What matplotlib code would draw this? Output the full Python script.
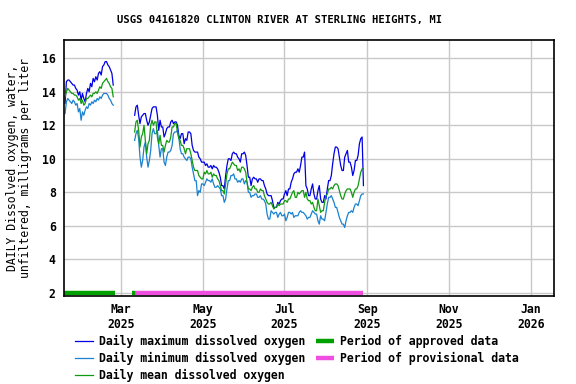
import matplotlib
matplotlib.use("Agg")
import matplotlib.pyplot as plt
import matplotlib.dates as mdates
import pandas as pd

# Daily values (mg/L)
seg1_start = "2025-01-18"
seg1_max = [13.3, 14.6, 14.7, 14.7, 14.6, 14.5, 14.4, 14.4, 14.2, 14.1, 13.8, 14.0, 13.5,
            13.9, 13.6, 13.4, 13.9, 14.2, 14.0, 14.5, 14.3, 14.8, 14.6, 14.9, 14.7, 15.1,
            15.2, 15.0, 15.5, 15.6, 15.8, 15.8, 15.6, 15.5, 15.3, 15.1, 14.4]
seg1_mean = [13.7, 14.0, 14.2, 14.1, 14.0, 13.9, 13.9, 13.8, 13.8, 13.7, 13.5, 13.6, 13.3,
             13.5, 13.2, 13.3, 13.6, 13.6, 13.7, 13.8, 13.7, 13.9, 13.9, 14.0, 13.9, 14.1,
             14.3, 14.2, 14.5, 14.6, 14.7, 14.8, 14.6, 14.5, 14.3, 14.2, 13.7]
seg1_min = [12.7, 13.4, 13.6, 13.5, 13.4, 13.3, 13.5, 13.4, 13.2, 13.3, 12.8, 13.0, 12.3,
            12.8, 12.6, 12.9, 13.1, 13.0, 13.3, 13.2, 13.4, 13.3, 13.5, 13.4, 13.6, 13.5,
            13.7, 13.6, 13.8, 13.9, 13.9, 13.9, 13.8, 13.6, 13.5, 13.3, 13.2]

seg2_start = "2025-03-11"
seg2_max = [12.6, 13.1, 13.2, 12.6, 12.1, 12.5, 12.6, 12.7, 12.7, 12.3,
            12.0, 12.2, 12.6, 13.0, 13.1, 13.1, 13.1, 12.6, 11.7, 12.3,
            11.9, 11.9, 11.3, 11.5, 11.8, 11.9, 11.9, 12.2, 12.3, 12.1,
            12.2, 12.2, 12.0, 11.4, 11.2, 11.5, 11.5, 10.9, 11.2, 11.1,
            11.6, 11.6, 11.5, 10.8, 10.5, 10.4, 10.4, 10.4, 10.1, 10.0,
            9.8, 9.8, 9.8, 9.6, 9.7, 9.5, 9.5, 9.6, 9.4, 9.6,
            9.5, 9.5, 9.4, 9.2, 8.9, 8.4, 8.4, 8.2, 9.0, 9.6,
            10.0, 10.0, 9.9, 10.3, 10.4, 10.3, 10.3, 10.1, 10.0, 9.8,
            10.3, 10.3, 10.4, 10.2, 9.6, 8.9, 8.9, 8.4, 8.8, 8.9,
            8.8, 8.8, 8.6, 8.8, 8.8, 8.7, 8.7, 8.4, 8.2, 7.9,
            7.8, 7.8, 7.8, 7.5, 7.1, 7.1, 7.1, 7.4, 7.3, 7.5,
            7.6, 7.6, 7.9, 8.1, 7.8, 8.2, 8.2, 8.6, 8.8, 9.1,
            9.2, 9.2, 9.4, 9.2, 9.6, 10.1, 10.1, 10.4, 8.4, 8.2,
            7.8, 7.8, 8.2, 8.5, 7.9, 7.6, 7.6, 8.1, 8.4, 7.6,
            7.4, 7.4, 7.8, 7.6, 8.2, 8.7, 8.7, 9.0, 9.7, 10.3,
            10.7, 10.7, 10.6, 10.1, 9.6, 9.3, 9.3, 10.1, 10.3, 10.5,
            9.8, 9.8, 9.5, 9.0, 9.3, 9.9, 9.9, 10.2, 10.9, 11.2,
            11.3, 8.4]
seg2_mean = [11.6, 12.2, 12.3, 11.7, 10.7, 11.3, 11.5, 12.0, 11.1, 10.3,
             10.9, 11.1, 12.0, 12.3, 12.0, 12.2, 12.2, 11.3, 10.9, 11.4,
             10.8, 10.8, 10.4, 10.8, 11.1, 11.0, 11.0, 11.3, 11.9, 11.9,
             12.1, 12.1, 11.6, 11.2, 11.1, 10.8, 10.8, 10.6, 10.3, 10.6,
             10.6, 10.6, 10.3, 9.9, 9.5, 9.3, 9.3, 9.3, 9.0, 8.9,
             8.8, 8.8, 9.2, 9.1, 9.3, 9.1, 9.1, 9.2, 8.9, 9.1,
             9.0, 9.0, 8.8, 8.7, 8.4, 8.1, 8.1, 7.9, 8.5, 9.1,
             9.4, 9.4, 9.6, 9.8, 9.7, 9.6, 9.6, 9.3, 9.4, 9.2,
             9.5, 9.5, 9.4, 9.2, 8.6, 8.2, 8.2, 8.1, 8.3, 8.4,
             8.2, 8.2, 8.0, 8.0, 8.2, 8.1, 8.1, 7.8, 7.6, 7.4,
             7.3, 7.3, 7.4, 7.2, 7.0, 7.1, 7.1, 7.3, 7.2, 7.3,
             7.3, 7.3, 7.5, 7.5, 7.4, 7.6, 7.6, 7.8, 8.0, 8.1,
             7.7, 7.7, 8.0, 7.9, 8.0, 8.1, 8.1, 7.7, 8.0, 7.6,
             7.5, 7.5, 7.3, 7.4, 7.1, 6.9, 6.9, 7.6, 7.2, 6.8,
             6.9, 6.9, 7.4, 7.8, 7.9, 8.2, 8.2, 8.3, 8.2, 8.4,
             8.5, 8.5, 8.4, 8.1, 7.8, 7.6, 7.6, 7.9, 8.1, 8.2,
             8.2, 8.2, 8.0, 7.7, 8.0, 8.2, 8.2, 8.4, 8.8, 9.2,
             9.4, 9.4]
seg2_min = [11.1, 11.5, 11.7, 11.2, 10.1, 9.5, 9.9, 10.7, 11.0, 10.1,
            9.5, 9.9, 10.5, 11.5, 11.8, 11.5, 11.5, 11.7, 10.8, 10.1,
            10.6, 10.6, 9.8, 9.6, 10.1, 10.4, 10.4, 10.5, 10.8, 11.5,
            11.6, 11.6, 11.7, 11.3, 10.6, 10.3, 10.3, 10.1, 10.0, 9.9,
            10.1, 10.1, 10.0, 9.5, 9.1, 8.7, 8.7, 7.8, 8.1, 8.0,
            8.5, 8.5, 8.4, 8.6, 8.8, 8.7, 8.7, 8.6, 8.8, 8.5,
            8.3, 8.3, 8.4, 8.3, 8.2, 7.8, 7.8, 7.4, 7.6, 8.2,
            8.7, 8.7, 9.0, 9.0, 9.1, 8.8, 8.8, 8.6, 8.7, 8.6,
            8.8, 8.8, 8.5, 8.7, 8.6, 8.0, 8.0, 7.7, 7.8, 7.8,
            7.9, 7.9, 7.7, 7.7, 7.8, 7.6, 7.6, 7.5, 7.3, 6.7,
            6.4, 6.4, 6.9, 6.8, 6.7, 6.8, 6.8, 6.5, 6.7, 6.8,
            6.6, 6.6, 6.7, 6.3, 6.5, 6.8, 6.8, 6.7, 6.8, 6.5,
            6.6, 6.6, 6.6, 6.8, 6.9, 6.8, 6.8, 6.7, 6.6, 6.4,
            6.5, 6.5, 6.7, 6.9, 6.8, 6.7, 6.7, 6.3, 6.1, 6.6,
            6.4, 6.4, 6.3, 6.8, 7.3, 7.7, 7.7, 7.8, 7.6, 7.4,
            7.1, 7.1, 6.8, 6.5, 6.3, 6.1, 6.1, 5.9, 6.3, 6.6,
            6.8, 6.8, 6.9, 6.8, 7.1, 7.3, 7.3, 7.2, 7.5, 7.8,
            7.9, 7.9]

# Data approval periods (start, end)
approved_periods = [("2025-01-17", "2025-02-24"), ("2025-03-09", "2025-03-11")]
provisional_periods = [("2025-03-11", "2025-08-29")]

y_ticks = [2, 4, 6, 8, 10, 12, 14, 16]
title = "USGS 04161820 CLINTON RIVER AT STERLING HEIGHTS, MI"
ylabel = "DAILY Dissolved oxygen, water,\nunfiltered, milligrams per liter"

c_max = "#0000e6"
c_min = "#1a82d0"
c_mean = "#109a10"
c_appr = "#00a000"
c_prov = "#f04ee0"

plt.rcParams["font.family"] = "DejaVu Sans Mono"
plt.rcParams["font.weight"] = "bold"

fig = plt.figure(figsize=(5.76, 3.84), dpi=100)
ax = fig.add_axes([64 / 576, 1 - 296 / 384, 490 / 576, 256 / 384])

d1 = pd.date_range(seg1_start, periods=len(seg1_max), freq="D")
d2 = pd.date_range(seg2_start, periods=len(seg2_max), freq="D")

lw = 0.9
ax.plot(d1, seg1_max, color=c_max, lw=lw, label="Daily maximum dissolved oxygen")
ax.plot(d2, seg2_max, color=c_max, lw=lw)
ax.plot(d1, seg1_min, color=c_min, lw=lw, label="Daily minimum dissolved oxygen")
ax.plot(d2, seg2_min, color=c_min, lw=lw)
ax.plot(d1, seg1_mean, color=c_mean, lw=lw, label="Daily mean dissolved oxygen")
ax.plot(d2, seg2_mean, color=c_mean, lw=lw)

for i, (s, e) in enumerate(approved_periods):
    ax.plot(pd.to_datetime([s, e]), [2.0, 2.0], color=c_appr, lw=3.2, solid_capstyle="butt",
            label="Period of approved data" if i == 0 else None)
for i, (s, e) in enumerate(provisional_periods):
    ax.plot(pd.to_datetime([s, e]), [2.0, 2.0], color=c_prov, lw=3.2, solid_capstyle="butt",
            label="Period of provisional data" if i == 0 else None)

ax.set_xlim(pd.Timestamp("2025-01-17 05:00"), pd.Timestamp("2026-01-18 10:00"))
ax.set_ylim(1.81, 17.09)
ax.set_yticks(y_ticks)
ax.xaxis.set_major_locator(mdates.MonthLocator(bymonth=[1, 3, 5, 7, 9, 11]))
ax.xaxis.set_major_formatter(mdates.DateFormatter("%b\n%Y"))
ax.tick_params(length=0, labelsize=8.3, pad=6)
ax.tick_params(axis="x", pad=5)
ax.grid(True, color="#c8c8c8", lw=1)
ax.set_axisbelow(True)
for sp in ax.spines.values():
    sp.set_linewidth(1.2)

ax.set_ylabel(ylabel, fontsize=8.3, linespacing=1.0, labelpad=7)
fig.text(280 / 576, 1 - 20 / 384, title, ha="center", va="center",
         fontsize=7.6, fontweight="bold")

# legend in two columns below
handles, labels = ax.get_legend_handles_labels()
fig.legend(handles, labels, loc="upper left", bbox_to_anchor=(75 / 576, 1 - 335 / 384),
           ncol=2, frameon=False, fontsize=8.3, handlelength=1.6, handletextpad=0.5,
           columnspacing=0.9, labelspacing=0.35, borderaxespad=0, borderpad=0)

fig.savefig("out.png", dpi=100)
